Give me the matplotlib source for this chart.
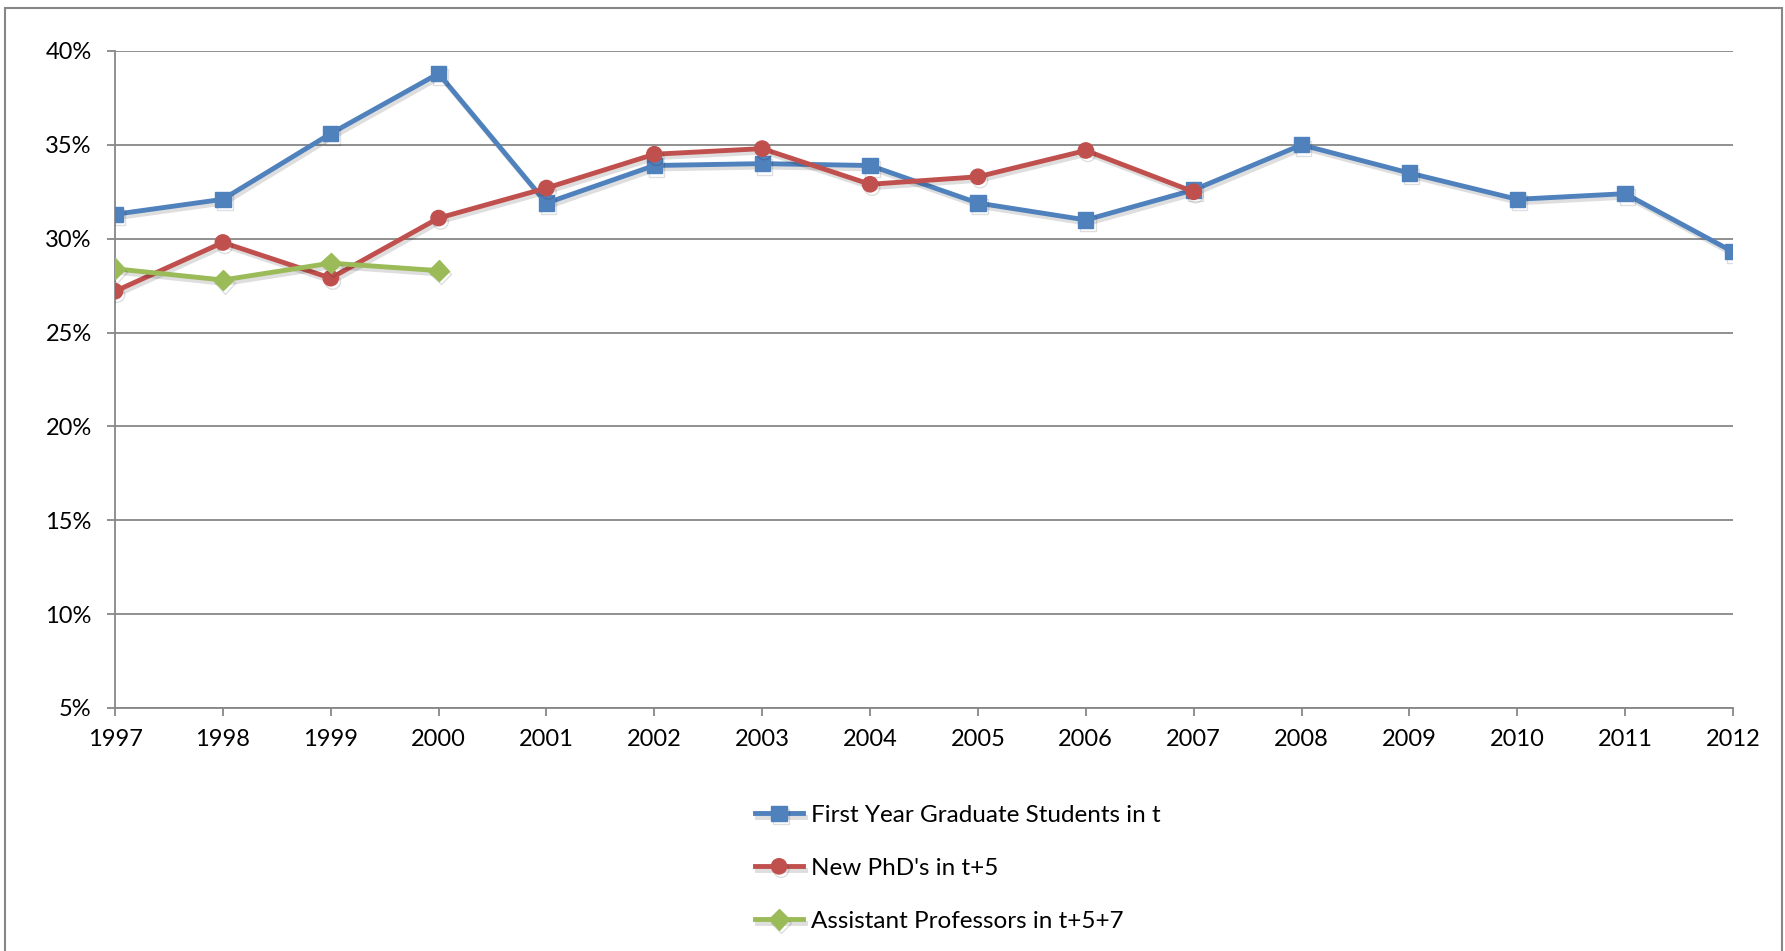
import matplotlib
matplotlib.use("Agg")
import matplotlib.pyplot as plt
import matplotlib.patheffects as pe
from matplotlib.patches import Rectangle
from matplotlib.ticker import FuncFormatter

plt.rcParams['font.family'] = ['Lato', 'DejaVu Sans']

# ----------------- data -----------------
years = list(range(1997, 2013))
first_year = [31.3, 32.1, 35.6, 38.8, 31.9, 33.9, 34.0, 33.9,
              31.9, 31.0, 32.6, 35.0, 33.5, 32.1, 32.4, 29.3]
new_phd = [27.2, 29.8, 27.9, 31.1, 32.7, 34.5, 34.8, 32.9, 33.3, 34.7, 32.5]
asst_prof = [28.4, 27.8, 28.7, 28.3]

labels = ["First Year Graduate Students in t",
          "New PhD's in t+5",
          "Assistant Professors in t+5+7"]
colors = ["#4F81BD", "#C0504D", "#9BBB59"]
grid_col = "#878787"

fig = plt.figure(figsize=(17.85, 9.51), dpi=100)
ax = fig.add_axes([115 / 1785, 243 / 951, (1733 - 115) / 1785, 657 / 951])

# soft drop shadow like the Excel original
shadow = [pe.SimpleLineShadow(offset=(1.5, -2.5), alpha=0.13, shadow_color='k'), pe.Normal()]

ax.plot(years, first_year, color=colors[0], lw=3.5, marker='s', ms=11,
        label=labels[0], path_effects=shadow, zorder=3)
ax.plot(years[:len(new_phd)], new_phd, color=colors[1], lw=3.5, marker='o', ms=11,
        label=labels[1], path_effects=shadow, zorder=4)
ax.plot(years[:len(asst_prof)], asst_prof, color=colors[2], lw=3.5, marker='D', ms=10.5,
        label=labels[2], path_effects=shadow, zorder=5)

ax.set_xlim(1997, 2012)
ax.set_ylim(5, 40)
ax.set_xticks(years)
ax.set_yticks(range(5, 41, 5))
ax.yaxis.set_major_formatter(FuncFormatter(lambda v, p: f"{v:.0f}%"))
ax.yaxis.grid(True, color=grid_col, lw=1.3)
ax.set_axisbelow(True)

for s in ['top', 'right']:
    ax.spines[s].set_visible(False)
for s in ['left', 'bottom']:
    ax.spines[s].set_color(grid_col)
    ax.spines[s].set_linewidth(1.3)
ax.tick_params(axis='both', color=grid_col, width=1.3, length=5.8,
               labelsize=17, labelcolor='black')
ax.tick_params(axis='x', pad=9)
ax.tick_params(axis='y', pad=11)

# legend below the plot
fig.legend(loc='upper left', bbox_to_anchor=(745 / 1785, 1 - 795 / 951),
           frameon=False, fontsize=17.5, handlelength=2.0, handletextpad=0.3,
           labelspacing=1.32, borderaxespad=0)

# outer chart border
fig.patches.append(Rectangle((5 / 1785, -0.02), (1782 - 5) / 1785, 1.02 - 8 / 951,
                             transform=fig.transFigure, fill=False,
                             edgecolor=grid_col, lw=1.5))

fig.savefig("out.png", dpi=100)
